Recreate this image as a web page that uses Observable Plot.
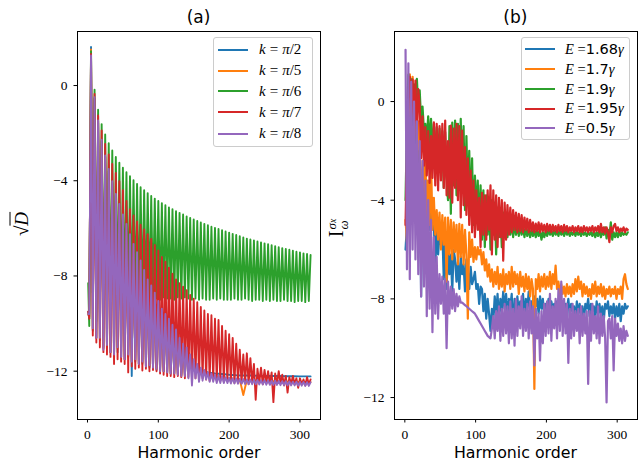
<!DOCTYPE html>
<html><head><meta charset="utf-8">
<script src="https://cdn.jsdelivr.net/npm/d3@7"></script>
<script src="https://cdn.jsdelivr.net/npm/@observablehq/plot@0.6"></script>
<style>
body{margin:0;background:#fff;}
#fig{position:relative;width:644px;height:466px;overflow:hidden;background:#fff;}
#fig svg{position:absolute;top:0;}
.txt{position:absolute;white-space:nowrap;color:#000;line-height:1;}
.leg{position:absolute;border:1px solid #cccccc;border-radius:3px;background:rgba(255,255,255,0.8);box-sizing:border-box;}
.sw{position:absolute;height:2px;width:30px;}
.lt{position:absolute;white-space:nowrap;line-height:1;font-family:"Liberation Serif",serif;}
</style></head>
<body><div id="fig"></div>
<script>
// ---------- shared ----------
const colors = ["#1f77b4", "#ff7f0e", "#2ca02c", "#d62728", "#9467bd"];
const xTicks = [0, 100, 200, 300];
const yTicks = [0, -4, -8, -12];

// ---------- panel (a) ----------
const labelsA = ["π/2", "π/5", "π/6", "π/7", "π/8"];
const peakOrdersA = [5,10,15,20,25,30,35,40,45,50,55,60,65,70,75,80,85,90,95,100,105,110,115,120,125,130,135,140,145,150,155,160,165,170,175,180,185,190,195,200,205,210,215,220,225,230,235,240,245,250,255,260,265,270,275,280,285,290,295,300,305,310,315];
const troughOrdersA = [2.5,7.5,12.5,17.5,22.5,27.5,32.5,37.5,42.5,47.5,52.5,57.5,62.5,67.5,72.5,77.5,82.5,87.5,92.5,97.5,102.5,107.5,112.5,117.5,122.5,127.5,132.5,137.5,142.5,147.5,152.5,157.5,162.5,167.5,172.5,177.5,182.5,187.5,192.5,197.5,202.5,207.5,212.5,217.5,222.5,227.5,232.5,237.5,242.5,247.5,252.5,257.5,262.5,267.5,272.5,277.5,282.5,287.5,292.5,297.5,302.5,307.5,312.5];

const blueStartA = [1, -9.5];
const bluePeaksA = [1.62,-0.55,-1.55,-2.35,-3.0,-3.6,-4.1,-4.6,-5.05,-5.5,-5.9,-6.3,-6.7,-7.05,-7.4,-7.8,-8.2,-8.45,-8.75,-9.1,-9.45,-9.65,-9.85,-10.1,-10.3,-10.65,-10.9,-11.05];
const blueTroughsA = [-9.8,-10.3,-10.6,-10.7,-11.0,-11.0,-11.2,-11.3,-11.2,-11.4,-11.5,-11.4,-12.2,-11.6,-11.7,-11.7,-11.8,-11.85,-11.9,-11.95,-12.0,-12.0,-12.05,-12.1,-12.1,-12.1,-12.15,-12.15];
const blueTailXA = [145,150,155,160,170,180,190,200,210,220,230,240,250,260,270,280,290,300,310,315];
const blueTailYA = [-11.4,-11.6,-11.8,-11.95,-12.05,-12.1,-12.12,-12.15,-12.17,-12.18,-12.18,-12.19,-12.2,-12.2,-12.2,-12.21,-12.21,-12.22,-12.22,-12.22];

const orangeStartA = [1, -9.6];
const orangePeaksA = [1.52,-0.52,-1.5,-2.3,-2.97,-3.55,-4.05,-4.57,-5.0,-5.45,-5.85,-6.27,-6.67,-7.02,-7.37,-7.77,-8.17,-8.42,-8.72,-9.07,-9.4,-9.62,-9.82,-10.07,-10.27,-10.62,-10.87,-11.02];
const orangeTroughsA = [-9.7,-10.25,-10.6,-10.65,-11.05,-10.95,-11.2,-11.3,-11.05,-11.4,-11.5,-11.35,-11.6,-11.55,-11.7,-11.65,-11.8,-11.8,-11.85,-11.9,-12.0,-12.0,-12.05,-12.1,-12.1,-12.15,-12.2,-12.2];
const orangeTailXA = [145,150,155,160,170,180,190,200,210,215,220,225,230,240,250,260,270,280,290,300,310,315];
const orangeTailYA = [-11.45,-11.65,-11.85,-12.0,-12.15,-12.22,-12.27,-12.3,-12.33,-12.35,-13.0,-12.37,-12.38,-12.4,-12.4,-12.42,-12.42,-12.43,-12.44,-12.45,-12.45,-12.45];

const greenStartA = [1, -8.3];
const greenPeaksA = [1.44,-0.18,-1.02,-1.62,-2.06,-2.42,-2.73,-3.0,-3.24,-3.45,
 -3.64,-3.81,-3.98,-4.13,-4.27,-4.4,-4.52,-4.64,-4.75,-4.85,
 -4.94,-5.03,-5.12,-5.2,-5.28,-5.35,-5.42,-5.5,-5.56,-5.63,
 -5.69,-5.75,-5.81,-5.87,-5.93,-5.98,-6.03,-6.08,-6.13,-6.18,
 -6.23,-6.28,-6.33,-6.38,-6.43,-6.47,-6.51,-6.55,-6.59,-6.63,
 -6.67,-6.71,-6.75,-6.79,-6.83,-6.87,-6.9,-6.94,-6.98,-7.01,
 -7.05,-7.08,-7.12];
const greenTroughsA = [-10.1,-8.7,-9.9,-9.5,-9.3,-9.2,-9.1,-9.05,-9.0,-9.0,
 -8.95,-9.0,-8.95,-9.0,-9.0,-8.95,-9.0,-8.95,-9.0,-8.95,
 -9.0,-8.9,-8.95,-8.95,-9.0,-8.9,-8.95,-8.9,-8.95,-9.0,
 -8.95,-9.0,-8.95,-9.0,-9.0,-8.95,-9.0,-8.95,-9.0,-9.0,
 -9.0,-8.95,-9.0,-9.0,-8.95,-9.0,-9.05,-9.0,-9.0,-9.05,
 -9.0,-9.05,-9.0,-9.05,-9.05,-9.0,-9.05,-9.05,-9.1,-9.05,
 -9.05,-9.1,-9.05];

const redStartA = [1, -9.5];
const redPeaksA = [1.33,-0.35,-1.26,-1.89,-2.45,-2.9,-3.29,-3.67,-4.02,-4.4,
 -4.85,-5.2,-5.46,-5.71,-5.85,-6.05,-6.25,-6.44,-6.7,-6.93,
 -7.2,-7.4,-7.65,-7.9,-8.15,-8.3,-8.45,-8.6,-8.8,-8.95,
 -9.1,-9.3,-9.45,-9.6,-9.65,-9.8,-9.85,-10.1,-10.3,-10.45,
 -10.6,-10.85,-11.1,-11.3,-11.25,-11.45,-11.7,-11.9,-11.85,-11.95,
 -12.0,-12.05,-12.1,-12.0,-12.15,-12.2,-12.25,-12.2,-12.3,-12.3,
 -12.35,-12.25,-12.35];
const redTroughsA = [-9.8,-10.5,-10.8,-11.0,-11.2,-11.3,-11.4,-11.7,-11.5,-11.6,
 -11.7,-12.05,-11.8,-11.9,-11.85,-11.97,-11.9,-12.0,-11.95,-12.0,
 -12.1,-12.15,-12.2,-12.2,-12.25,-12.2,-12.25,-12.3,-12.25,-12.3,
 -12.3,-12.35,-12.3,-12.35,-12.4,-12.35,-12.4,-12.4,-12.45,-12.4,
 -12.45,-12.5,-12.45,-12.5,-12.5,-12.55,-12.5,-13.2,-12.5,-12.55,
 -12.5,-12.55,-13.3,-12.55,-12.5,-12.6,-12.9,-12.55,-12.55,-12.7,
 -12.55,-12.6,-12.55];

const purpleStartA = [1, -9.6];
const purplePeaksA = [1.26,-0.49,-1.47,-2.28,-2.94,-3.5,-4.02,-4.55,-4.97,-5.42,
 -5.81,-6.25,-6.65,-7.0,-7.35,-7.75,-8.15,-8.4,-8.7,-9.05,
 -9.38,-9.6,-9.8,-10.05,-10.25,-10.6,-10.85,-11.0,-11.3,-11.5,
 -11.7,-11.85,-11.95,-12.05,-12.1,-12.15,-12.2,-12.2,-12.25,-12.28,
 -12.3,-12.3,-12.32,-12.33,-12.35,-12.35,-12.36,-12.37,-12.38,-12.38,
 -12.39,-12.4,-12.4,-12.41,-12.42,-12.42,-12.43,-12.44,-12.44,-12.45,
 -12.45,-12.46,-12.47];
const purpleTroughsA = [-9.6,-10.2,-10.6,-10.6,-11.1,-10.9,-11.2,-11.3,-11.0,-11.4,
 -11.5,-11.3,-11.6,-11.5,-11.7,-11.6,-11.8,-11.75,-11.85,-11.9,
 -12.0,-12.0,-12.05,-12.1,-12.1,-12.15,-12.2,-12.2,-12.3,-12.6,
 -12.3,-12.45,-12.4,-12.35,-12.45,-12.45,-12.5,-12.5,-12.5,-12.5,
 -12.52,-12.52,-12.53,-12.53,-12.54,-12.54,-12.55,-12.55,-12.56,-12.56,
 -12.57,-12.57,-12.58,-12.58,-12.59,-12.59,-12.6,-12.6,-12.6,-12.61,
 -12.61,-12.62,-12.62];

// ---------- panel (b) ----------
const labelsB = ["1.68", "1.7", "1.9", "1.95", "0.5"];
const ordersB = [1,3,5,7,9,11,13,15,17,19,
 21,23,25,27,29,31,33,35,37,39,
 41,43,45,47,49,51,53,55,57,59,
 61,63,65,67,69,71,73,75,77,79,
 81,83,85,87,89,91,93,95,97,99,
 101,103,105,107,109,111,113,115,117,119,
 121,123,125,127,129,131,133,135,137,139,
 141,143,145,147,149,151,153,155,157,159,
 161,163,165,167,169,171,173,175,177,179,
 181,183,185,187,189,191,193,195,197,199,
 201,203,205,207,209,211,213,215,217,219,
 221,223,225,227,229,231,233,235,237,239,
 241,243,245,247,249,251,253,255,257,259,
 261,263,265,267,269,271,273,275,277,279,
 281,283,285,287,289,291,293,295,297,299,
 301,303,305,307,309,311,313,315];
const blueB = [-6.0,-5.0,0.6,-1.0,0.4,-1.5,-0.5,-2.0,-1.4,-2.5,
 -2.0,-7.9,-3.0,-2.6,-4.0,-3.2,-3.6,-5.2,-4.3,-5.0,
 -4.96,-6.9,-5.0,-6.2,-5.4,-5.8,-5.3,-7.2,-5.6,-7.6,
 -5.9,-7.0,-6.2,-7.7,-6.0,-6.4,-7.3,-6.5,-7.6,-6.3,
 -7.0,-6.6,-7.7,-6.4,-6.9,-7.6,-6.7,-7.4,-7.2,-6.9,
 -7.6,-7.4,-8.2,-7.5,-7.6,-8.5,-7.8,-8.8,-8.0,-8.6,
 -9.3,-8.4,-8.9,-7.9,-8.6,-7.8,-8.9,-8.0,-8.5,-7.7,
 -8.4,-7.8,-8.6,-8.0,-8.3,-7.8,-9.3,-8.0,-8.5,-7.9,
 -8.6,-8.1,-8.3,-7.8,-8.8,-8.0,-8.4,-7.7,-8.5,-8.1,
 -8.7,-7.9,-8.3,-8.0,-8.6,-7.9,-8.4,-8.0,-8.7,-8.2,
 -8.5,-8.0,-8.6,-8.1,-8.4,-8.2,-8.8,-8.1,-8.5,-8.3,
 -8.9,-8.1,-8.6,-8.2,-8.4,-8.0,-8.7,-8.2,-8.5,-8.3,
 -8.8,-8.1,-8.6,-8.2,-8.7,-8.3,-8.9,-8.2,-8.4,-8.0,
 -8.7,-8.2,-8.5,-8.3,-8.8,-8.1,-8.6,-8.2,-8.7,-8.3,
 -8.9,-8.2,-8.4,-8.1,-8.7,-8.3,-8.6,-8.2,-8.8,-8.3,
 -8.7,-8.2,-8.9,-8.3,-8.6,-8.2,-8.4,-8.3];
const orangeB = [-4.8,-5.7,-3.0,1.1,0.2,1.0,-0.9,0.3,-1.5,-0.8,
 -2.3,-4.2,-2.4,-4.5,-2.3,-4.8,-3.2,-5.0,-2.3,-5.2,
 -3.9,-5.4,-4.4,-5.6,-4.5,-6.0,-4.6,-5.8,-4.7,-7.3,
 -4.7,-6.2,-4.8,-6.4,-4.9,-6.1,-5.0,-6.6,-4.96,-6.3,
 -5.0,-6.6,-5.2,-6.2,-8.8,-5.3,-6.3,-5.6,-6.5,-5.9,
 -6.4,-5.9,-6.2,-6.0,-6.6,-6.1,-6.85,-6.4,-7.1,-6.6,
 -7.3,-6.8,-7.5,-6.9,-7.4,-6.7,-7.6,-7.0,-7.5,-6.8,
 -7.7,-7.0,-7.4,-6.9,-7.6,-6.7,-7.5,-6.9,-7.4,-7.0,
 -7.8,-6.9,-7.5,-7.1,-7.7,-7.0,-7.6,-7.1,-7.9,-7.2,
 -7.6,-11.65,-7.2,-7.6,-7.0,-7.7,-7.1,-7.5,-7.0,-7.6,
 -7.1,-7.5,-6.9,-7.6,-7.0,-7.4,-6.65,-7.6,-7.3,-7.8,
 -7.4,-7.8,-7.5,-7.9,-7.4,-7.8,-7.5,-7.9,-7.4,-7.8,
 -7.2,-7.7,-7.1,-7.6,-7.3,-7.9,-7.4,-7.8,-7.5,-7.9,
 -7.6,-8.0,-7.4,-7.8,-7.3,-7.9,-7.5,-7.8,-7.4,-7.9,
 -7.5,-8.0,-7.6,-7.8,-7.5,-7.9,-7.6,-7.8,-7.5,-8.0,
 -7.6,-7.8,-7.5,-8.0,-7.2,-7.0,-7.4,-7.6];
const greenB = [-4.0,-1.0,1.09,0.3,0.9,0.1,0.7,-0.1,0.92,-0.3,
 0.45,-0.8,-0.2,-1.2,-0.9,-1.6,-0.6,-1.8,-0.7,-2.2,
 -0.9,-2.5,-1.04,-2.3,-1.1,-2.8,-1.2,-3.5,-1.24,-3.0,
 -4.0,-1.0,-4.55,-0.85,-3.4,-0.77,-3.8,-0.9,-3.2,-0.7,
 -3.6,-1.0,-4.4,-1.4,-4.0,-2.0,-4.6,-2.3,-5.0,-3.0,
 -4.6,-3.2,-5.2,-3.4,-5.6,-3.6,-5.9,-3.8,-5.4,-3.9,
 -6.0,-4.0,-5.4,-4.1,-6.2,-4.3,-5.5,-4.4,-5.9,-4.5,
 -5.3,-4.6,-5.5,-4.7,-5.4,-4.8,-5.5,-4.9,-5.4,-5.0,
 -5.45,-5.0,-5.4,-5.1,-5.5,-5.1,-5.45,-5.15,-5.5,-5.2,
 -5.45,-5.2,-5.5,-5.2,-5.45,-5.25,-5.6,-5.3,-5.5,-5.25,
 -5.45,-5.2,-5.4,-5.25,-5.45,-5.2,-5.4,-5.25,-5.45,-5.2,
 -5.4,-5.25,-5.45,-5.2,-5.4,-5.25,-5.45,-5.3,-5.4,-5.25,
 -5.45,-5.25,-5.4,-5.3,-5.45,-5.25,-5.4,-5.3,-5.45,-5.3,
 -5.4,-5.3,-5.45,-5.25,-5.5,-5.3,-5.45,-5.2,-5.5,-5.3,
 -5.4,-5.1,-5.55,-5.2,-5.45,-4.9,-5.6,-5.3,-5.5,-5.3,
 -5.5,-5.25,-5.45,-5.3,-5.4,-5.35,-5.4,-5.3];
const redB = [-5.0,-2.0,0.3,1.0,-0.5,0.9,-0.8,0.85,-1.6,0.5,
 -0.18,-2.3,-0.6,-2.6,-1.04,-3.0,-1.2,-3.3,-1.4,-3.1,
 -0.84,-3.4,-0.9,-3.6,-1.0,-3.2,-0.9,-3.5,-0.77,-3.8,
 -1.6,-3.9,-0.97,-4.1,-1.1,-3.5,-0.9,-4.0,-1.0,-4.7,
 -1.18,-4.2,-1.85,-4.6,-2.3,-5.0,-2.8,-5.3,-3.2,-5.5,
 -3.6,-5.2,-3.9,-5.9,-3.7,-5.4,-3.8,-5.6,-3.6,-5.2,
 -3.4,-6.2,-3.6,-5.6,-3.8,-5.9,-3.9,-5.5,-4.0,-6.45,
 -4.1,-5.6,-4.2,-5.4,-4.3,-5.3,-4.4,-5.2,-4.5,-5.3,
 -4.55,-5.25,-4.6,-5.3,-4.7,-5.2,-4.75,-5.3,-4.8,-5.25,
 -4.9,-5.3,-4.95,-5.25,-4.9,-5.3,-4.95,-5.25,-5.0,-5.3,
 -4.96,-5.25,-5.0,-5.3,-5.0,-5.25,-5.05,-5.3,-5.0,-5.25,
 -5.05,-5.3,-5.0,-5.25,-5.05,-5.3,-5.1,-5.25,-5.05,-5.3,
 -5.1,-5.25,-5.05,-5.3,-5.1,-5.3,-5.05,-5.25,-5.1,-5.3,
 -5.1,-5.25,-5.05,-5.3,-5.1,-5.25,-5.05,-5.3,-4.96,-5.3,
 -5.1,-5.35,-5.1,-5.3,-5.7,-5.1,-5.3,-5.05,-4.96,-5.25,
 -5.1,-5.3,-5.15,-5.25,-5.1,-5.3,-5.15,-5.2];
const purpleB = [2.1,-6.8,1.55,-7.2,0.8,-6.0,0.0,-6.4,-0.8,-7.0,
 -1.6,-7.9,-2.4,-7.5,-3.2,-8.7,-4.0,-8.4,-4.8,-9.35,
 -5.5,-8.6,-6.3,-8.8,-7.0,-8.2,-7.1,-8.6,-7.2,-10.0,
 -7.3,-8.6,-7.5,-8.4,-7.6,-8.5,-7.8,-8.3,-7.9,-8.15,
 -8.15,-8.2,-8.25,-8.3,-8.35,-8.4,-8.45,-8.5,-8.55,-8.6,
 -8.7,-8.8,-8.9,-9.0,-9.1,-9.2,-9.3,-9.4,-9.5,-9.55,
 -9.6,-9.2,-8.7,-9.6,-8.5,-9.3,-8.3,-9.7,-8.4,-9.5,
 -8.2,-9.4,-8.3,-9.8,-8.1,-9.6,-8.4,-9.9,-8.0,-9.5,
 -8.3,-9.2,-7.9,-9.5,-8.4,-9.3,-8.2,-9.6,-8.1,-9.4,
 -8.3,-10.7,-8.4,-9.6,-8.6,-10.5,-8.5,-9.8,-8.2,-9.5,
 -8.1,-9.4,-7.8,-9.7,-8.3,-9.2,-8.0,-9.6,-7.6,-9.3,
 -7.3,-9.5,-8.0,-9.4,-8.2,-10.6,-8.4,-9.6,-8.2,-9.5,
 -8.5,-9.3,-8.4,-9.8,-8.3,-9.5,-8.6,-9.4,-8.5,-11.45,
 -8.5,-9.7,-8.2,-9.4,-8.7,-9.6,-8.3,-9.8,-8.6,-9.5,
 -8.7,-9.6,-12.2,-8.9,-8.8,-9.6,-8.7,-10.9,-8.8,-9.5,
 -9.0,-9.7,-9.2,-9.8,-9.1,-9.7,-9.3,-9.5];

// ---------- build point lists ----------
function zig(start, troughs, peaks, tailX, tailY) {
  const pts = [{x: start[0], y: start[1]}];
  for (let i = 0; i < peaks.length; i++) {
    pts.push({x: troughOrdersA[i], y: troughs[i]});
    pts.push({x: peakOrdersA[i], y: peaks[i]});
  }
  if (tailX) tailX.forEach((x, i) => pts.push({x, y: tailY[i]}));
  return pts;
}
const seriesA = [
  zig(blueStartA, blueTroughsA, bluePeaksA, blueTailXA, blueTailYA),
  zig(orangeStartA, orangeTroughsA, orangePeaksA, orangeTailXA, orangeTailYA),
  zig(greenStartA, greenTroughsA, greenPeaksA),
  zig(redStartA, redTroughsA, redPeaksA),
  zig(purpleStartA, purpleTroughsA, purplePeaksA)
];
const toPts = ys => ordersB.map((x, i) => ({x, y: ys[i]})).filter(d => d.y != null);
const seriesB = [blueB, orangeB, greenB, redB, purpleB].map(toPts);

const fmt = d => d < 0 ? "\u2212" + Math.abs(d) : String(d);

function makePlot(series, opts) {
  return Plot.plot({
    width: 322, height: 466,
    marginLeft: opts.ml, marginRight: opts.mr, marginTop: 31, marginBottom: 47,
    x: {domain: opts.xd},
    y: {domain: opts.yd},
    style: {fontFamily: "'Liberation Serif', serif", fontSize: "13.5px", background: "transparent", color: "#000", overflow: "visible"},
    marks: [
      ...series.map((pts, i) => Plot.line(pts, {x: "x", y: "y", stroke: colors[i], strokeWidth: opts.lw, strokeLinejoin: "round"})),
      Plot.frame({stroke: "#000", strokeWidth: 1}),
      Plot.axisX({ticks: xTicks, tickSize: 3.5, tickPadding: 6.5, tickFormat: fmt, label: null, stroke: "#000"}),
      Plot.axisY({ticks: yTicks, tickSize: 3.5, tickPadding: 6.5, tickFormat: fmt, label: null, stroke: "#000"})
    ]
  });
}

const fig = document.getElementById("fig");
const pa = makePlot(seriesA, {ml: 77, mr: 2, xd: [-14.1, 329], yd: [-14.03, 2.27], lw: 1.9});
pa.style.left = "0px";
fig.appendChild(pa);
const pb = makePlot(seriesB, {ml: 72, mr: 7, xd: [-14.6, 328.7], yd: [-12.89, 2.84], lw: 2.2});
pb.style.left = "322px";
fig.appendChild(pb);

function addText(html, css) {
  const d = document.createElement("div");
  d.className = "txt";
  d.innerHTML = html;
  Object.assign(d.style, css);
  fig.appendChild(d);
  return d;
}
const sans = "'DejaVu Sans', sans-serif";
// titles
addText("(a)", {left: "198.5px", top: "9px", transform: "translateX(-50%)", fontFamily: sans, fontSize: "17px"});
addText("(b)", {left: "515.3px", top: "9px", transform: "translateX(-50%)", fontFamily: sans, fontSize: "17px"});
// x labels
addText("Harmonic order", {left: "199px", top: "445px", transform: "translateX(-50%)", fontFamily: sans, fontSize: "15.8px"});
addText("Harmonic order", {left: "515.5px", top: "445px", transform: "translateX(-50%)", fontFamily: sans, fontSize: "15.8px"});
// y labels
addText("√<span style='text-decoration:overline;font-style:italic'>D</span>",
  {left: "21px", top: "224px", transform: "translate(-50%,-50%) rotate(-90deg)", fontFamily: "'Liberation Serif', serif", fontSize: "19px"});
addText("I<span style='display:inline-block;vertical-align:middle;line-height:0.95;font-size:13px;text-align:left;margin-left:1px'><span style='display:block'><i>σ</i><span style='font-size:9.5px;font-style:italic'>x</span></span><span style='display:block'><i>ω</i></span></span>",
  {left: "338px", top: "228px", transform: "translate(-50%,-50%) rotate(-90deg)", fontFamily: "'Liberation Serif', serif", fontSize: "20px"});

// legends
function legend(box, rowsY, swX, txtX, html, fontSize) {
  const b = document.createElement("div");
  b.className = "leg";
  Object.assign(b.style, {left: box[0] + "px", top: box[1] + "px", width: (box[2] - box[0]) + "px", height: (box[3] - box[1]) + "px"});
  fig.appendChild(b);
  rowsY.forEach((y, i) => {
    const s = document.createElement("div");
    s.className = "sw";
    Object.assign(s.style, {left: swX + "px", top: (y - 1) + "px", background: colors[i]});
    fig.appendChild(s);
    const t = document.createElement("div");
    t.className = "lt";
    t.innerHTML = html[i];
    Object.assign(t.style, {left: txtX + "px", top: (y - fontSize * 0.5) + "px", fontSize: fontSize + "px"});
    fig.appendChild(t);
  });
}
legend([213, 37, 313, 147], [49.5, 70.5, 91, 112, 133.5], 218, 259,
  labelsA.map(l => "<i>k</i><span style='margin:0 4px'>=</span><i>π</i>" + l.slice(1)), 15);
legend([521, 37, 630, 140], [49, 69.3, 89.3, 108.7, 128.3], 525, 565,
  labelsB.map(l => "<i>E</i> =<span style=\"font-family:'DejaVu Sans',sans-serif\">" + l + "</span><i>γ</i>"), 14.5);
</script></body></html>
